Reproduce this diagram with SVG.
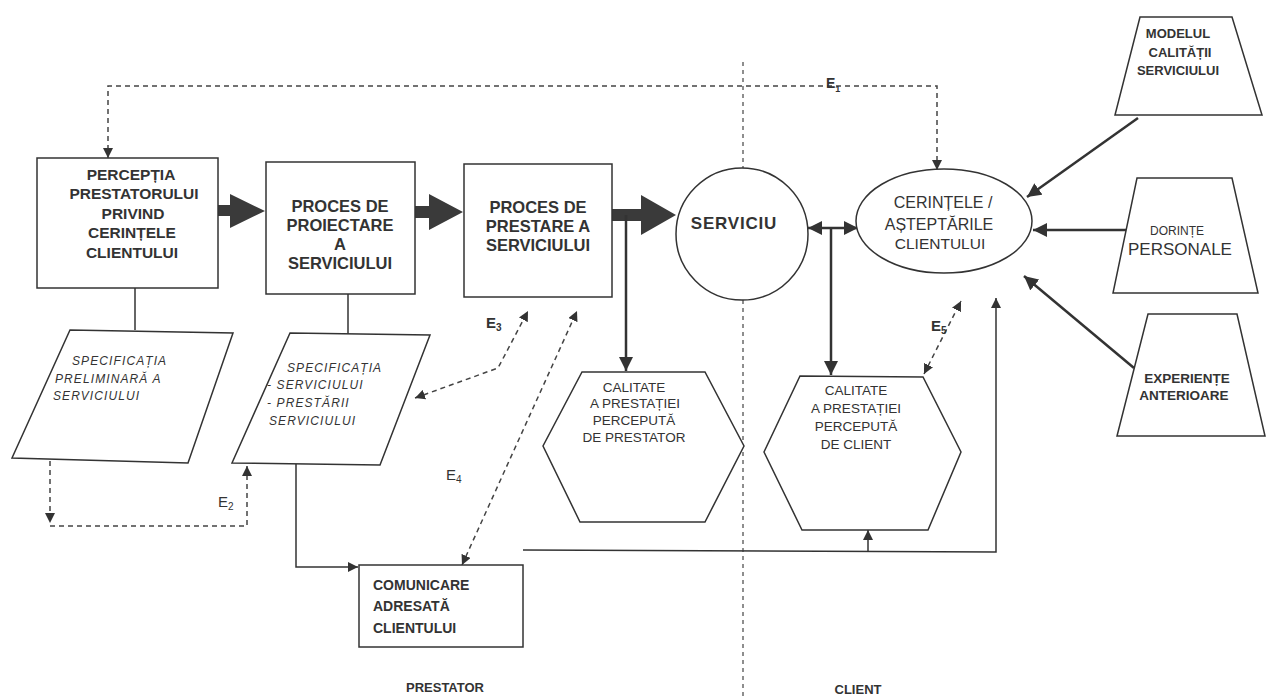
<svg xmlns="http://www.w3.org/2000/svg" width="1271" height="698" viewBox="0 0 1271 698">
<style>
.shape{fill:#fff;stroke:#333;stroke-width:1.5}
.ln{fill:none;stroke:#333;stroke-width:1.5}
.thk{fill:none;stroke:#333;stroke-width:2.5}
.dsh{fill:none;stroke:#444;stroke-width:1.5;stroke-dasharray:5,4}
.big{fill:#3a3a3a}
.t{font-family:"Liberation Sans",Arial,sans-serif;fill:#333}
.b{font-weight:bold}
.i{font-style:italic}
</style>
<defs>
<marker id="ah" viewBox="0 0 10 10" refX="10" refY="5" markerWidth="10" markerHeight="10" markerUnits="userSpaceOnUse" orient="auto-start-reverse">
<path d="M0,0 L10,5 L0,10 z" fill="#333"/>
</marker>
<marker id="ahb" viewBox="0 0 10 10" refX="10" refY="5" markerWidth="14" markerHeight="14" markerUnits="userSpaceOnUse" orient="auto-start-reverse">
<path d="M0,0 L10,5 L0,10 z" fill="#333"/>
</marker>
</defs>
<rect width="1271" height="698" fill="#fff"/>

<g id="connectors">
<!-- E1 -->
<path class="dsh" d="M937,170 L937,86 L108,86 L108,158" marker-start="url(#ah)" marker-end="url(#ah)"/>
<!-- divider -->
<path class="dsh" d="M743,62 L743,168 M743,300 L743,698" style="stroke-dasharray:4,4;stroke-width:1.2"/>
<!-- thick arrows -->
<polygon class="big" points="218,205 230,205 230,194 265,211 230,228 230,216 218,216"/>
<polygon class="big" points="415,206 429,206 429,194 463,212 429,230 429,218 415,218"/>
<polygon class="big" points="612,209 641,209 641,195 676,215 641,235 641,221 612,221"/>
<!-- to prestator hexagon -->
<path class="thk" d="M626,215 L626,371" marker-end="url(#ahb)"/>
<!-- double arrow circle-ellipse -->
<path class="thk" d="M808,228 L858,228" marker-start="url(#ahb)" marker-end="url(#ahb)"/>
<path class="thk" d="M831,228 L831,375" marker-end="url(#ahb)"/>
<!-- trapezoids to ellipse -->
<path class="thk" d="M1138,118 L1027,197" marker-end="url(#ahb)"/>
<path class="thk" d="M1127,230 L1033,230" marker-end="url(#ahb)"/>
<path class="thk" d="M1134,368 L1024,276" marker-end="url(#ahb)"/>
<!-- box to spec -->
<path class="ln" d="M135,288 L135,330"/>
<path class="ln" d="M348,294 L348,334"/>
<!-- E2 -->
<path class="dsh" d="M50,461 L50,523" marker-end="url(#ah)"/>
<path class="dsh" d="M50,526 L247,526 L247,466" marker-end="url(#ah)"/>
<!-- E3 -->
<path class="dsh" d="M415,398 L498,368 L528,311" marker-start="url(#ah)" marker-end="url(#ah)"/>
<!-- E4 -->
<path class="dsh" d="M462,565 L577,311" marker-start="url(#ah)" marker-end="url(#ah)"/>
<!-- E5 -->
<path class="dsh" d="M924,374 L961,301" marker-start="url(#ah)" marker-end="url(#ah)"/>
<!-- spec2 to comunicare -->
<path class="ln" d="M296,464 L296,567 L358,567" marker-end="url(#ah)"/>
<!-- comunicare to client -->
<path class="ln" d="M523,550 L996,552 L996,298" marker-end="url(#ah)"/>
<path class="ln" d="M868,552 L868,530" marker-end="url(#ah)"/>
</g>

<g id="n-perceptia">
<rect class="shape" x="37" y="158" width="181" height="130"/>
<text class="t b" font-size="15.5" text-anchor="middle"><tspan x="131" y="180">PERCEPȚIA</tspan><tspan x="134" y="199">PRESTATORULUI</tspan><tspan x="133" y="219">PRIVIND</tspan><tspan x="132" y="238">CERINȚELE</tspan><tspan x="132" y="258">CLIENTULUI</tspan></text>
</g>
<g id="n-proiectare">
<rect class="shape" x="266" y="162" width="149" height="132"/>
<text class="t b" font-size="16.5" text-anchor="middle"><tspan x="340" y="212">PROCES DE</tspan><tspan x="340" y="231">PROIECTARE</tspan><tspan x="340" y="250">A</tspan><tspan x="340" y="269">SERVICIULUI</tspan></text>
</g>
<g id="n-prestare">
<rect class="shape" x="464" y="164" width="148" height="133"/>
<text class="t b" font-size="16.5" text-anchor="middle"><tspan x="538" y="213">PROCES DE</tspan><tspan x="538" y="232">PRESTARE A</tspan><tspan x="538" y="251">SERVICIULUI</tspan></text>
</g>
<g id="n-serviciu">
<circle class="shape" cx="742" cy="234" r="66"/>
<text class="t b" font-size="17" letter-spacing="0.8" x="734" y="229" text-anchor="middle">SERVICIU</text>
</g>
<g id="n-cerinte">
<ellipse class="shape" cx="944" cy="221" rx="88" ry="52"/>
<text class="t" text-anchor="middle"><tspan x="943" y="208" font-size="16">CERINȚELE /</tspan><tspan x="939" y="230" font-size="16">AȘTEPTĂRILE</tspan><tspan x="940" y="249" font-size="15.5">CLIENTULUI</tspan></text>
</g>
<g id="n-modelul">
<polygon class="shape" points="1140,17 1232,17 1262,115 1115,115"/>
<text class="t b" font-size="13" text-anchor="middle"><tspan x="1178" y="38">MODELUL</tspan><tspan x="1180" y="57">CALITĂȚII</tspan><tspan x="1178" y="75">SERVICIULUI</tspan></text>
</g>
<g id="n-dorinte">
<polygon class="shape" points="1137,178 1232,178 1258,293 1113,293"/>
<text class="t" text-anchor="middle"><tspan x="1177" y="235" font-size="12">DORINȚE</tspan><tspan x="1180" y="255" font-size="17">PERSONALE</tspan></text>
</g>
<g id="n-experiente">
<polygon class="shape" points="1148,314 1237,314 1265,436 1117,436"/>
<text class="t b" font-size="13.5" text-anchor="middle"><tspan x="1187" y="383">EXPERIENȚE</tspan><tspan x="1184" y="400">ANTERIOARE</tspan></text>
</g>
<g id="n-spec1">
<polygon class="shape" points="70,330 233,333 188,463 12,458"/>
<text class="t i" font-size="12" letter-spacing="1.1"><tspan x="72" y="365">SPECIFICAȚIA</tspan><tspan x="55" y="383">PRELIMINARĂ A</tspan><tspan x="53" y="400">SERVICIULUI</tspan></text>
</g>
<g id="n-spec2">
<polygon class="shape" points="290,333 430,335 380,465 232,463"/>
<text class="t i" font-size="12" letter-spacing="1.1"><tspan x="287" y="372">SPECIFICAȚIA</tspan><tspan x="267" y="389">- SERVICIULUI</tspan><tspan x="267" y="407">- PRESTĂRII</tspan><tspan x="269" y="425">SERVICIULUI</tspan></text>
</g>
<g id="n-calit-prestator">
<polygon class="shape" points="582,372 705,372 744,446 705,522 580,522 543,446"/>
<text class="t" font-size="13.5" text-anchor="middle"><tspan x="634" y="392">CALITATE</tspan><tspan x="635" y="408">A PRESTAȚIEI</tspan><tspan x="634" y="425">PERCEPUTĂ</tspan><tspan x="634" y="442">DE PRESTATOR</tspan></text>
</g>
<g id="n-calit-client">
<polygon class="shape" points="800,376 923,377 961,452 928,530 802,530 764,452"/>
<text class="t" font-size="13.5" text-anchor="middle"><tspan x="856" y="395">CALITATE</tspan><tspan x="856" y="413">A PRESTAȚIEI</tspan><tspan x="856" y="431">PERCEPUTĂ</tspan><tspan x="856" y="449">DE CLIENT</tspan></text>
</g>
<g id="n-comunicare">
<rect class="shape" x="359" y="565" width="164" height="82"/>
<text class="t b" font-size="14"><tspan x="373" y="590">COMUNICARE</tspan><tspan x="373" y="611">ADRESATĂ</tspan><tspan x="373" y="633">CLIENTULUI</tspan></text>
</g>
<g id="labels">
<text class="t b" font-size="14" x="826" y="88">E<tspan font-size="9" dy="4">1</tspan></text>
<text class="t" font-size="15" x="218" y="507">E<tspan font-size="10" dy="3">2</tspan></text>
<text class="t b" font-size="15" x="486" y="328">E<tspan font-size="10" dy="3">3</tspan></text>
<text class="t" font-size="15" x="446" y="480">E<tspan font-size="10" dy="3">4</tspan></text>
<text class="t b" font-size="15" x="931" y="331">E<tspan font-size="10" dy="3">5</tspan></text>
<text class="t b" font-size="13" x="445" y="692" text-anchor="middle">PRESTATOR</text>
<text class="t b" font-size="13" x="858" y="694" text-anchor="middle">CLIENT</text>
</g>
</svg>
